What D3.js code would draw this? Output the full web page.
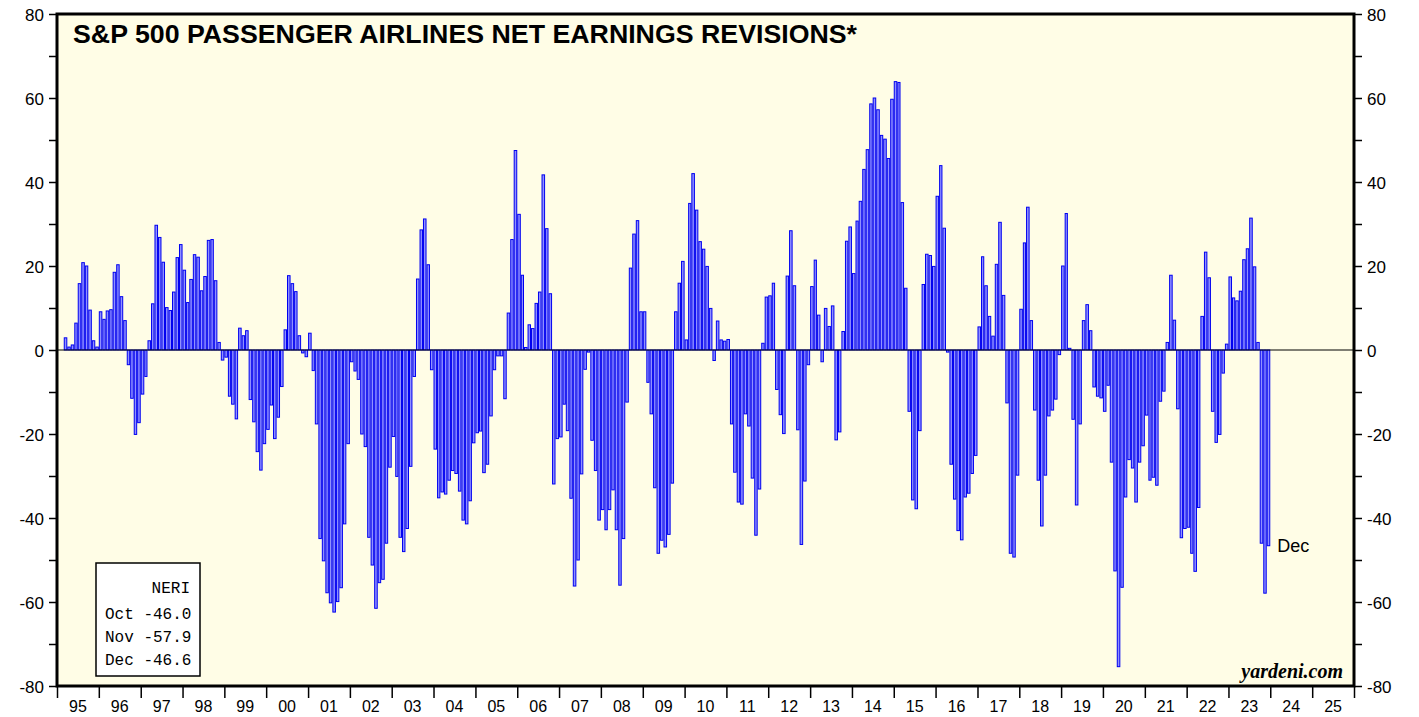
<!DOCTYPE html>
<html>
<head>
<meta charset="utf-8">
<script src="https://cdn.jsdelivr.net/npm/d3@7"></script>
<style>
  html, body { margin: 0; padding: 0; background: #fff; }
  svg { display: block; }
  .axis text { font-family: "Liberation Sans", Arial, sans-serif; font-size: 17px; fill: #000; }
  .axis path { display: none; }
  .axis line { stroke: #000; stroke-width: 1.5; }
</style>
</head>
<body>
<svg width="1419" height="717"></svg>
<script>
// monthly NERI values, first one is Mar 1995, last one Dec 2023
const startMonth = new Date(1995, 2, 1);
const neri = [
  2.9, 0.7, 1.2, 6.4, 15.8, 20.8, 20.0, 9.5, 2.2, 0.7,                          // 95 (Mar-Dec)
  9.1, 7.3, 9.3, 9.6, 18.5, 20.3, 12.7, 7.0, -3.5, -11.5, -20.1, -17.3,          // 96
  -10.5, -6.3, 2.2, 11.0, 29.7, 26.8, 20.9, 10.1, 9.4, 13.8, 22.0, 25.1,         // 97
  19.0, 11.3, 16.8, 22.7, 22.1, 14.1, 17.5, 26.1, 26.3, 16.5, 1.8, -2.4,         // 98
  -1.7, -11.0, -12.9, -16.4, 5.2, 3.4, 4.6, -11.8, -17.1, -24.2, -28.6, -22.3,   // 99
  -18.9, -13.1, -21.1, -16.0, -8.7, 4.8, 17.7, 15.8, 13.9, 3.4, -0.7, -1.6,      // 00
  4.0, -4.9, -17.6, -44.9, -50.2, -57.8, -60.2, -62.4, -59.9, -56.6, -41.4, -22.3, // 01
  -2.8, -5.0, -7.0, -20.0, -23.0, -44.6, -51.2, -61.5, -55.4, -54.6, -46.0, -27.9, // 02
  -20.6, -30.1, -44.6, -48.0, -42.5, -27.7, -6.3, 16.9, 28.6, 31.2, 20.3, -4.7,  // 03
  -23.6, -35.2, -33.8, -34.3, -31.0, -28.7, -29.4, -33.6, -40.5, -41.4, -35.9, -22.1, // 04
  -19.7, -19.3, -29.2, -27.2, -15.7, -4.7, -1.4, -1.4, -11.6, 8.8, 26.3, 47.5,   // 05
  32.3, 17.8, 0.6, 6.0, 5.1, 11.1, 13.8, 41.7, 28.9, 13.4, -31.9, -21.1,         // 06
  -20.7, -12.9, -19.2, -35.3, -56.2, -50.0, -29.5, -4.6, -0.5, -21.5, -28.7, -40.5, // 07
  -38.0, -42.8, -38.0, -33.3, -42.8, -56.0, -44.9, -12.4, 19.5, 27.6, 30.8, 9.1, // 08
  9.1, -7.7, -15.2, -32.8, -48.4, -45.3, -46.9, -43.9, -31.7, 9.1, 15.9, 21.1,   // 09
  2.4, 34.9, 42.0, 33.3, 25.8, 24.0, 19.9, 9.9, -2.5, 6.9, 2.4, 2.1,             // 10
  2.5, -17.6, -29.1, -36.2, -36.7, -15.2, -18.1, -30.5, -44.1, -33.1, 1.6, 12.6, // 11
  12.9, 15.9, -9.4, -15.4, -19.9, 17.6, 28.4, 15.3, -19.0, -46.3, -31.2, -3.5,   // 12
  15.1, 21.4, 8.3, -2.8, 9.9, 5.6, 10.5, -21.4, -19.5, 4.4, 25.9, 29.3,          // 13
  18.2, 30.7, 35.4, 43.0, 47.7, 58.6, 60.0, 57.2, 51.1, 50.2, 45.6, 59.7,        // 14
  63.9, 63.7, 35.1, 14.7, -14.6, -35.7, -37.8, -19.2, 15.6, 22.8, 22.5, 19.9,    // 15
  36.6, 43.9, 29.0, -0.5, -27.2, -35.5, -43.0, -45.2, -35.0, -34.1, -29.4, -25.1, // 16
  5.5, 22.2, 15.3, 8.0, 3.3, 20.4, 30.4, 13.0, -12.6, -48.4, -49.3, -29.8,       // 17
  9.7, 25.5, 34.0, 7.0, -14.3, -31.0, -41.9, -29.8, -15.7, -14.3, -11.7, -1.1,   // 18
  20.0, 32.5, 0.4, -16.5, -36.9, -17.6, 7.0, 10.8, 4.6, -8.8, -11.0, -11.4,      // 19
  -14.6, -8.4, -26.7, -52.6, -75.4, -56.5, -35.0, -26.1, -28.1, -36.2, -26.7, -22.8, // 20
  -15.5, -31.0, -30.3, -32.2, -12.2, -9.8, 1.8, 17.8, 7.1, -14.0, -44.7, -42.5,  // 21
  -42.2, -48.4, -52.7, -37.5, 8.0, 23.3, 17.2, -14.6, -22.0, -20.1, -5.5, 1.4,   // 22
  17.4, 12.4, 11.7, 14.0, 21.5, 24.1, 31.4, 19.8, 1.8, -46.0, -57.9, -46.6       // 23
];

const yearLabels = ['95','96','97','98','99','00','01','02','03','04','05','06','07','08','09',
  '10','11','12','13','14','15','16','17','18','19','20','21','22','23','24','25'];
const yTicks = [-80, -60, -40, -20, 0, 20, 40, 60, 80];
const legendTitle = 'NERI';
const legendMonths = ['Oct', 'Nov', 'Dec'];
const legendValues = [-46.0, -57.9, -46.6];

const svg = d3.select('svg');

const margin = { left: 57, right: 1354, top: 14, bottom: 686 };

const x = d3.scaleTime()
  .domain([new Date(1995, 0, 1), new Date(2026, 0, 1)])
  .range([margin.left, margin.right]);

const y = d3.scaleLinear()
  .domain([-80, 80])
  .range([margin.bottom, margin.top]);

const data = neri.map((v, i) => ({ date: d3.timeMonth.offset(startMonth, i), value: v }));

// plot background
svg.append('rect')
  .attr('x', margin.left)
  .attr('y', margin.top)
  .attr('width', margin.right - margin.left)
  .attr('height', margin.bottom - margin.top)
  .attr('fill', '#fffde6');

// bars
svg.append('g')
  .attr('class', 'bars')
  .selectAll('rect')
  .data(data)
  .enter()
  .append('rect')
  .attr('x', d => x(d.date) + 0.5)
  .attr('width', d => x(d3.timeMonth.offset(d.date, 1)) - x(d.date) - 1)
  .attr('y', d => Math.min(y(d.value), y(0)))
  .attr('height', d => Math.abs(y(d.value) - y(0)))
  .attr('fill', '#9090ff')
  .attr('stroke', '#0000f0')
  .attr('stroke-width', 1);

// zero line
svg.append('line')
  .attr('x1', margin.left)
  .attr('x2', margin.right)
  .attr('y1', y(0))
  .attr('y2', y(0))
  .attr('stroke', '#000')
  .attr('stroke-width', 1);

// y axes, ticks every 10, labels every 20
const fmt = d => (yTicks.includes(d) ? d : '');
const leftAxis = d3.axisLeft(y).tickValues(d3.range(-80, 81, 10)).tickSize(8).tickPadding(5).tickFormat(fmt);
const rightAxis = d3.axisRight(y).tickValues(d3.range(-80, 81, 10)).tickSize(8).tickPadding(5).tickFormat(fmt);

svg.append('g')
  .attr('class', 'axis')
  .attr('transform', `translate(${margin.left},0)`)
  .call(leftAxis)
  .selectAll('text')
  .attr('dy', '0.36em');

svg.append('g')
  .attr('class', 'axis')
  .attr('transform', `translate(${margin.right},0)`)
  .call(rightAxis)
  .selectAll('text')
  .attr('dy', '0.36em');

// bottom axis: year boundaries as ticks, labels mid-year
const bottomAxis = d3.axisBottom(x)
  .ticks(d3.timeYear.every(1))
  .tickSize(12)
  .tickFormat('');

svg.append('g')
  .attr('class', 'axis')
  .attr('transform', `translate(0,${margin.bottom})`)
  .call(bottomAxis);

svg.append('g')
  .selectAll('text')
  .data(yearLabels)
  .enter()
  .append('text')
  .attr('x', (d, i) => (x(new Date(1995 + i, 0, 1)) + x(new Date(1996 + i, 0, 1))) / 2)
  .attr('y', 712)
  .attr('text-anchor', 'middle')
  .style('font-family', '"Liberation Sans", Arial, sans-serif')
  .style('font-size', '16px')
  .text(d => d);

// frame
svg.append('rect')
  .attr('x', margin.left)
  .attr('y', margin.top)
  .attr('width', margin.right - margin.left)
  .attr('height', margin.bottom - margin.top)
  .attr('fill', 'none')
  .attr('stroke', '#000')
  .attr('stroke-width', 3);

// title
svg.append('text')
  .attr('x', 73)
  .attr('y', 43)
  .style('font-family', '"Liberation Sans", Arial, sans-serif')
  .style('font-weight', 'bold')
  .style('font-size', '25px')
  .attr('textLength', 784)
  .attr('lengthAdjust', 'spacingAndGlyphs')
  .text('S&P 500 PASSENGER AIRLINES NET EARNINGS REVISIONS*');

// last value label
const last = data[data.length - 1];
svg.append('text')
  .attr('x', x(d3.timeMonth.offset(last.date, 1)) + 7)
  .attr('y', y(last.value))
  .attr('dy', '0.36em')
  .style('font-family', '"Liberation Sans", Arial, sans-serif')
  .style('font-size', '18px')
  .text('Dec');

// legend box
const legend = svg.append('g').attr('class', 'legend');

legend.append('rect')
  .attr('x', 96)
  .attr('y', 563)
  .attr('width', 104)
  .attr('height', 113)
  .attr('fill', '#fff')
  .attr('stroke', '#000')
  .attr('stroke-width', 1.5);

legend.append('text')
  .attr('x', 190)
  .attr('y', 593)
  .attr('text-anchor', 'end')
  .style('font-family', '"Liberation Mono", "Courier New", monospace')
  .style('font-size', '16px')
  .text(legendTitle);

legend.selectAll('text.row')
  .data(legendMonths)
  .enter()
  .append('text')
  .attr('class', 'row')
  .attr('x', 105)
  .attr('y', (d, i) => 619 + i * 23)
  .style('font-family', '"Liberation Mono", "Courier New", monospace')
  .style('font-size', '16px')
  .attr('xml:space', 'preserve')
  .text((d, i) => `${d} ${legendValues[i].toFixed(1)}`);

// source
svg.append('text')
  .attr('x', 1343)
  .attr('y', 678)
  .attr('text-anchor', 'end')
  .style('font-family', '"Liberation Serif", "Times New Roman", serif')
  .style('font-weight', 'bold')
  .style('font-style', 'italic')
  .style('font-size', '20px')
  .text('yardeni.com');
</script>
</body>
</html>
